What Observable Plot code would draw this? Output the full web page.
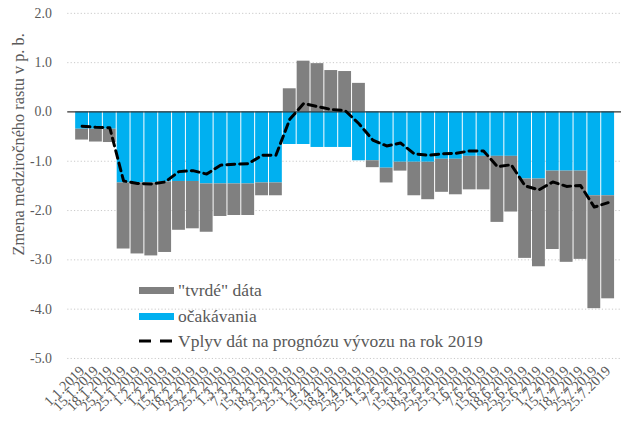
<!DOCTYPE html>
<html>
<head>
<meta charset="utf-8">
<script src="https://cdn.jsdelivr.net/npm/d3@7"></script>
<script src="https://cdn.jsdelivr.net/npm/@observablehq/plot@0.6"></script>
<style>
  html, body { margin: 0; padding: 0; overflow: hidden; background: #fff; }
  #wrap { position: relative; width: 622px; height: 436px; overflow: hidden; font-family: "Liberation Serif", serif; }
  #legend { position: absolute; left: 139px; top: 280px; color: #595959; font-size: 17.5px; }
  .row { position: absolute; left: 0; height: 20px; display: flex; align-items: center; white-space: nowrap; }
  .sw { width: 35px; margin-right: 4px; }
</style>
</head>
<body>
<div id="wrap">
  <div id="chart"></div>
  <div id="legend">
    <div class="row" style="top:0px"><span class="sw" style="height:7px;background:#808080"></span>"tvrdé" dáta</div>
    <div class="row" style="top:26px"><span class="sw" style="height:7px;background:#00b0f0"></span>očakávania</div>
    <div class="row" style="top:51px"><svg class="sw" width="35" height="6" style="margin-right:4px"><line x1="0" y1="3" x2="35" y2="3" stroke="#000" stroke-width="3" stroke-dasharray="12,9"/></svg>Vplyv dát na prognózu vývozu na rok 2019</div>
  </div>
</div>
<script>
const dateLabels = [
  "1.1.2019","15.1.2019","18.1.2019","25.1.2019","25.1.2019",
  "1.2.2019","1.2.2019","15.2.2019","18.2.2019","25.2.2019","25.2.2019",
  "1.3.2019","7.3.2019","15.3.2019","18.3.2019","25.3.2019","25.3.2019",
  "1.4.2019","15.4.2019","18.4.2019","25.4.2019","25.4.2019",
  "1.5.2019","7.5.2019","15.5.2019","18.5.2019","25.5.2019","25.5.2019",
  "1.6.2019","7.6.2019","15.6.2019","18.6.2019","25.6.2019","25.6.2019",
  "1.7.2019","15.7.2019","18.7.2019","25.7.2019","25.7.2019"
];
// očakávania (expectations)
const expectations = [
  -0.35,-0.35,-0.35,-1.44,-1.44,-1.44,-1.42,-1.41,-1.41,-1.46,
  -1.46,-1.46,-1.46,-1.44,-1.44,-0.66,-0.66,-0.72,-0.72,-0.72,
  -0.99,-0.99,-1.14,-1.02,-1.02,-1.02,-0.96,-0.96,-0.90,-0.90,
  -0.90,-0.90,-1.36,-1.36,-1.20,-1.20,-1.20,-1.70,-1.70
];
// "tvrdé" dáta (hard data)
const hardData = [
  -0.22,-0.26,-0.27,-1.34,-1.44,-1.48,-1.43,-0.99,-0.96,-0.98,
  -0.66,-0.64,-0.64,-0.26,-0.26,0.47,1.03,0.98,0.84,0.82,
  0.58,-0.14,-0.30,-0.18,-0.68,-0.76,-0.67,-0.72,-0.68,-0.68,
  -1.34,-1.13,-1.61,-1.78,-1.59,-1.85,-1.79,-2.29,-2.09
];
// Vplyv dát na prognózu vývozu na rok 2019
const impact = [
  -0.29,-0.31,-0.32,-1.40,-1.45,-1.46,-1.42,-1.21,-1.19,-1.26,
  -1.08,-1.06,-1.05,-0.88,-0.88,-0.15,0.17,0.11,0.05,0.03,
  -0.24,-0.57,-0.69,-0.63,-0.85,-0.88,-0.85,-0.84,-0.79,-0.79,
  -1.11,-1.07,-1.50,-1.58,-1.42,-1.51,-1.49,-1.93,-1.84
];
const yTicks = [2, 1, 0, -1, -2, -3, -4, -5];
const seriesNames = ["očakávania", "\"tvrdé\" dáta"];
const seriesColors = ["#00b0f0", "#808080"];
const yTitle = "Zmena medziročného rastu v p. b.";

const idx = dateLabels.map((_, i) => i);
const stacked = [];
idx.forEach(i => {
  stacked.push({i, series: seriesNames[0], value: expectations[i]});
  stacked.push({i, series: seriesNames[1], value: hardData[i]});
});
const lineData = idx.map(i => ({i, value: impact[i]}));

const chart = Plot.plot({
  width: 629,
  height: 436,
  marginLeft: 68,
  marginRight: 1,
  marginTop: 13,
  marginBottom: 74,
  style: {fontFamily: "Liberation Serif, serif", background: "transparent", overflow: "visible"},
  x: {type: "band", domain: idx, paddingInner: 0.08, paddingOuter: 0.04, axis: null},
  y: {domain: [-5, 2], axis: null},
  color: {domain: seriesNames, range: seriesColors},
  marks: [
    Plot.ruleY(yTicks.filter(d => d !== 0), {stroke: "#c8c8c8", strokeDasharray: "1.2,2.2", strokeWidth: 1}),
    Plot.barY(stacked, Plot.stackY({x: "i", y: "value", fill: "series", order: null})),
    Plot.ruleY([0], {stroke: "#333", strokeWidth: 1.2}),
    Plot.line(lineData, {x: "i", y: "value", stroke: "#000", strokeWidth: 3, strokeDasharray: "8,5"}),
    Plot.axisY({ticks: yTicks, tickFormat: d => d.toFixed(1), tickSize: 0, tickPadding: 16, fontSize: 14, fill: "#595959", label: null}),
    Plot.axisX({tickFormat: i => dateLabels[i], tickRotate: -45, tickSize: 0, tickPadding: 10, fontSize: 14.5, fill: "#595959", label: null}),
    Plot.text([yTitle], {frameAnchor: "left", textAnchor: "middle", rotate: -90, dx: -50, dy: -42, fontSize: 16.5, fill: "#595959"})
  ]
});
document.getElementById("chart").appendChild(chart);
</script>
</body>
</html>
